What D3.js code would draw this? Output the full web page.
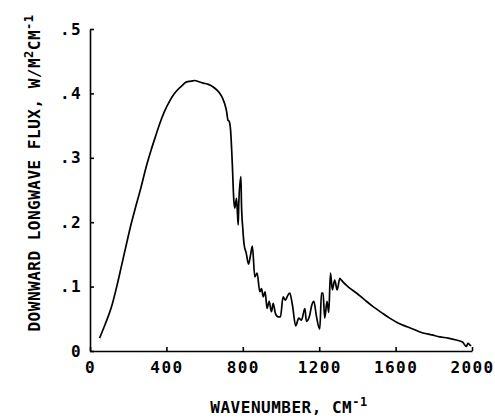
<html lang="en">
<head>
  <meta charset="UTF-8" />
  <title>Downward longwave flux</title>
  <style>
    body, html { margin: 0; padding: 0; background: white; }
    #chart text { font-family: "DejaVu Sans Mono", monospace; font-weight: bold; fill: black; }
    .axis path, .axis line { stroke: black; stroke-width: 1.6; }
  </style>
</head>
<body>
  <div id="chart"></div>
  <script src="https://cdn.jsdelivr.net/npm/d3@7"></script>
  <script>
    // values
    const wavenumber = [50, 80, 111, 140, 164, 190, 216, 242, 268, 295, 321, 345, 364, 390, 417, 440, 460, 485, 506, 530,
      549, 570, 593, 620, 645, 665, 680, 695, 706, 715, 723, 728, 736, 745, 753, 758, 767, 772, 776, 779,
      790, 793, 800, 807, 818, 830, 840, 850, 863, 875, 889, 898, 907, 917, 927, 938, 950, 959, 971, 985,
      997, 1011, 1023, 1035, 1046, 1060, 1077, 1093, 1107, 1125, 1133, 1150, 1160, 1172, 1186, 1203, 1212, 1220, 1229, 1241,
      1250, 1259, 1269, 1281, 1294, 1308, 1316, 1350, 1395, 1440, 1482, 1525, 1569, 1610, 1656, 1700, 1743, 1790, 1831, 1875,
      1918, 1950, 1970, 1979, 1990, 1996];
    const flux = [0.020, 0.042, 0.067, 0.100, 0.131, 0.165, 0.198, 0.227, 0.255, 0.287, 0.313, 0.335, 0.352, 0.372, 0.388, 0.399, 0.406, 0.413, 0.418, 0.419,
      0.420, 0.418, 0.416, 0.414, 0.410, 0.405, 0.400, 0.392, 0.383, 0.372, 0.358, 0.357, 0.343, 0.291, 0.234, 0.222, 0.237, 0.214, 0.196, 0.229,
      0.271, 0.229, 0.190, 0.165, 0.152, 0.135, 0.148, 0.163, 0.115, 0.121, 0.092, 0.097, 0.084, 0.092, 0.066, 0.077, 0.061, 0.074, 0.058, 0.053,
      0.053, 0.084, 0.079, 0.086, 0.090, 0.071, 0.039, 0.051, 0.048, 0.066, 0.046, 0.055, 0.070, 0.077, 0.053, 0.034, 0.090, 0.090, 0.051, 0.077,
      0.060, 0.121, 0.095, 0.110, 0.095, 0.113, 0.110, 0.100, 0.090, 0.079, 0.069, 0.060, 0.051, 0.044, 0.038, 0.033, 0.028, 0.025, 0.022, 0.020,
      0.017, 0.014, 0.007, 0.012, 0.009, 0.008];
    const xTicks = [0, 400, 800, 1200, 1600, 2000];
    const yTicks = [0, 0.1, 0.2, 0.3, 0.4, 0.5];

    const w = 495, h = 418;
    const data = wavenumber.map((d, i) => ({ x: d, y: flux[i] }));

    const svg = d3.select("#chart").append("svg")
      .attr("width", w)
      .attr("height", h);

    const x = d3.scaleLinear().domain([0, 2000]).range([90, 472]);
    const y = d3.scaleLinear().domain([0, 0.5]).range([351, 29]);

    const xAxis = d3.axisBottom(x).tickValues(xTicks)
      .tickSizeInner(-4).tickSizeOuter(0).tickPadding(11)
      .tickFormat(d3.format("d"));
    const yAxis = d3.axisLeft(y).tickValues(yTicks)
      .tickSizeInner(-4).tickSizeOuter(0).tickPadding(8)
      .tickFormat(d => d === 0 ? "0" : d3.format(".1f")(d).replace("0.", "."));

    svg.append("g").attr("class", "axis")
      .attr("transform", "translate(0," + y(0) + ")")
      .call(xAxis)
      .selectAll("text")
      .style("font-size", "16px")
      .style("letter-spacing", "1.4px");

    svg.append("g").attr("class", "axis")
      .attr("transform", "translate(" + x(0) + ",0)")
      .call(yAxis)
      .selectAll("text")
      .style("font-size", "16px")
      .style("letter-spacing", "1.4px");

    svg.selectAll(".axis text").attr("fill", "black").attr("font-family", null);
    svg.selectAll(".axis .domain").attr("stroke", "black");

    // the curve
    const line = d3.line()
      .x(d => x(d.x))
      .y(d => y(d.y))
      .curve(d3.curveMonotoneX);

    svg.append("path")
      .datum(data)
      .attr("fill", "none")
      .attr("stroke", "black")
      .attr("stroke-width", 1.7)
      .attr("stroke-linejoin", "round")
      .attr("d", line);

    // axis titles
    const xt = svg.append("text")
      .attr("x", 289)
      .attr("y", 413)
      .attr("text-anchor", "middle")
      .style("font-size", "16px")
      .style("letter-spacing", "0.5px");
    xt.append("tspan").text("WAVENUMBER, CM");
    xt.append("tspan").attr("dy", -7).style("font-size", "12px").text("-1");

    const yt = svg.append("text")
      .attr("transform", "translate(40,173) rotate(-90)")
      .attr("text-anchor", "middle")
      .style("font-size", "16px")
      .style("letter-spacing", "0.5px");
    yt.append("tspan").text("DOWNWARD LONGWAVE FLUX, W/M");
    yt.append("tspan").attr("dy", -7).style("font-size", "12px").text("2");
    yt.append("tspan").attr("dy", 7).text("CM");
    yt.append("tspan").attr("dy", -7).style("font-size", "12px").text("-1");
  </script>
</body>
</html>
